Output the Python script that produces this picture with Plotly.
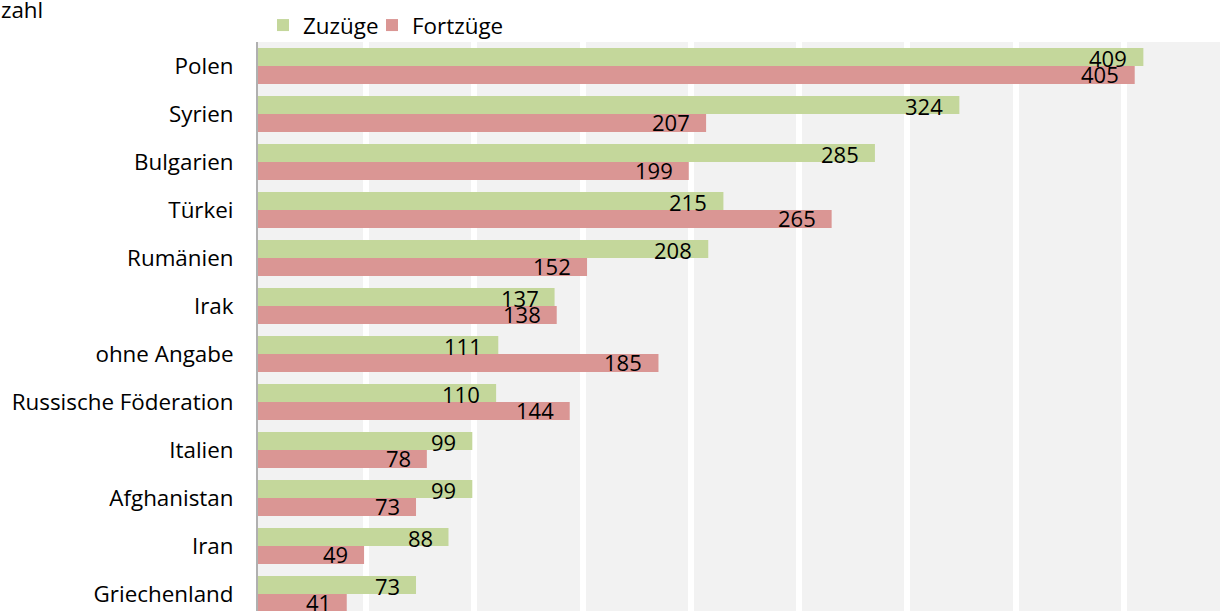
import plotly.graph_objects as go

# Herkunfts-/Zielländer, Anzahl der Zu- und Fortzüge
laender = ["Polen", "Syrien", "Bulgarien", "Türkei", "Rumänien", "Irak",
           "ohne Angabe", "Russische Föderation", "Italien", "Afghanistan",
           "Iran", "Griechenland"]
zuzuege = [409, 324, 285, 215, 208, 137, 111, 110, 99, 99, 88, 73]
fortzuege = [405, 207, 199, 265, 152, 138, 185, 144, 78, 73, 49, 41]
x_ticks = [0, 50, 100, 150, 200, 250, 300, 350, 400, 450]

GREEN = "#c4d79b"
RED = "#da9694"
FONT = "Open Sans"
FS = 22.4
pos = list(range(len(laender)))

# Plotbereich in Pixeln
W, H = 1220, 611
L, T = 258, 42
PW, PH = W - L, H - T

fig = go.Figure()
fig.add_trace(go.Bar(name="Zuzüge", y=pos, x=zuzuege, orientation="h",
                     marker=dict(color=GREEN, line=dict(width=0)),
                     legend="legend"))
fig.add_trace(go.Bar(name="Fortzüge", y=pos, x=fortzuege, orientation="h",
                     marker=dict(color=RED, line=dict(width=0)),
                     legend="legend2"))

# Wertbeschriftungen am Balkenende
half = 0.75 / 4
annotations = []
for i, (z, f) in enumerate(zip(zuzuege, fortzuege)):
    for val, off, ys in ((z, -half, -1), (f, half, 1)):
        annotations.append(dict(x=val, y=i + off, xref="x", yref="y",
                                text=str(val), showarrow=False,
                                xanchor="right", yanchor="middle",
                                xshift=-14, yshift=ys,
                                font=dict(family=FONT, size=22, color="#000")))

# Achsentitel oben links (teilweise angeschnitten)
annotations.append(dict(x=(45 - L) / PW, y=(H - 10) / PH, xref="paper", yref="paper",
                        text="Anzahl", showarrow=False,
                        xanchor="right", yanchor="middle",
                        font=dict(family=FONT, size=FS, color="#000")))

legend_style = dict(orientation="h", y=1 - 5 / PH, xanchor="left", yanchor="bottom",
                    font=dict(family=FONT, size=FS, color="#000"),
                    itemclick=False, bgcolor="rgba(0,0,0,0)")

fig.update_layout(
    width=W, height=H,
    margin=dict(l=L, r=0, t=T, b=0),
    paper_bgcolor="white", plot_bgcolor="#f2f2f2",
    barmode="group", bargap=0.25, bargroupgap=0,
    font=dict(family=FONT, size=FS, color="#000"),
    showlegend=True,
    legend=dict(x=5 / PW, **legend_style),
    legend2=dict(x=114 / PW, **legend_style),
    xaxis=dict(range=[0, 444.4], tickvals=x_ticks, showticklabels=False,
               showgrid=True, gridcolor="white", gridwidth=6,
               zeroline=False, ticks="", fixedrange=True),
    yaxis=dict(range=[11.354, -0.5], tickvals=pos, ticktext=laender,
               showgrid=False, zeroline=False, ticks="", ticklabelstandoff=18,
               showline=True, linecolor="#b0b0b0", linewidth=2,
               tickfont=dict(family=FONT, size=FS, color="#000")),
    annotations=annotations,
)

fig.write_html("out.html")
